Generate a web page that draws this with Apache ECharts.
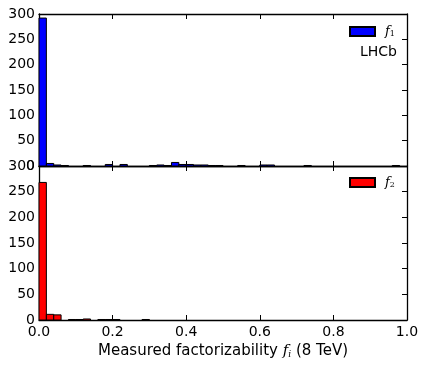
<!DOCTYPE html>
<html>
<head>
<meta charset="utf-8">
<script src="https://cdn.jsdelivr.net/npm/echarts@6/dist/echarts.min.js"></script>
<style>
  html, body { margin: 0; padding: 0; background: #fff; }
  #main { width: 427px; height: 367px; }
</style>
</head>
<body>
<div id="main"></div>
<script>
// histogram, 50 bins of width 0.02 on [0, 1]
var binWidth = 0.02;
var countsF1 = [292, 5, 2, 1, 0, 0, 1, 0, 0, 3, 0, 3, 0, 0, 0, 1, 2, 1, 7, 3,
                3, 2, 2, 1, 1, 0, 0, 1, 0, 0, 2, 2, 0, 0, 0, 0, 1, 0, 0, 0,
                0, 0, 0, 0, 0, 0, 0, 0, 1, 0];
var countsF2 = [268, 11, 10, 0, 1, 1, 2, 0, 1, 1, 1, 0, 0, 0, 1, 0, 0, 0, 0, 0,
                0, 0, 0, 0, 0, 0, 0, 0, 0, 0, 0, 0, 0, 0, 0, 0, 0, 0, 0, 0,
                0, 0, 0, 0, 0, 0, 0, 0, 0, 0];
var xTicks = [0, 0.2, 0.4, 0.6, 0.8, 1.0];
var yTicks = [0, 50, 100, 150, 200, 250, 300];

function toBins(counts) {
    return counts.map(function (c, i) { return [i * binWidth, (i + 1) * binWidth, c]; });
}

function renderBar(params, api) {
    var y = api.value(2);
    if (!y) return null;
    var p0 = api.coord([api.value(0), 0]);
    var p1 = api.coord([api.value(1), y]);
    return {
        type: 'rect',
        shape: { x: p0[0], y: p1[1], width: p1[0] - p0[0], height: p0[1] - p1[1] },
        style: api.style({ stroke: '#000', lineWidth: 1 })
    };
}

var font = 'DejaVu Sans';
var lineStyle = { color: '#000', width: 1.3 };
var myChart = echarts.init(document.getElementById('main'));

function xAxis(grid, pos, labels) {
    return {
        type: 'value', gridIndex: grid, position: pos, min: 0, max: 1, interval: 0.2,
        axisLine: { show: true, onZero: false, lineStyle: lineStyle },
        axisTick: { show: true, inside: true, length: 5, lineStyle: { color: '#000' } },
        axisLabel: {
            show: labels, color: '#000', fontFamily: font, fontSize: 14, margin: 5,
            formatter: function (v) { return v.toFixed(1); }
        },
        splitLine: { show: false }
    };
}
function yAxis(grid, pos, labels) {
    return {
        type: 'value', gridIndex: grid, position: pos, min: 0, max: 300, interval: 50,
        axisLine: { show: true, onZero: false, lineStyle: lineStyle },
        axisTick: { show: true, inside: true, length: 5, lineStyle: { color: '#000' } },
        axisLabel: { show: labels, color: '#000', fontFamily: font, fontSize: 14, margin: 4 },
        splitLine: { show: false }
    };
}

var xA = [xAxis(0, 'bottom', false), xAxis(0, 'top', false), xAxis(1, 'bottom', true), xAxis(1, 'top', false)];
xA[2].name = 'Measured factorizability {i|f}{s|i} (8 TeV)';
xA[2].nameLocation = 'middle';
xA[2].nameGap = 24;
xA[2].nameTextStyle = {
    color: '#000', fontFamily: font, fontSize: 15,
    rich: {
        i: { fontFamily: 'DejaVu Serif', fontStyle: 'italic', fontSize: 15 },
        s: { fontFamily: 'DejaVu Serif', fontStyle: 'italic', fontSize: 9, padding: [6, 0, 0, 0] }
    }
};

var legendRich = {
    i: { fontFamily: 'DejaVu Serif', fontStyle: 'italic', fontSize: 13, color: '#000' },
    s: { fontFamily: 'DejaVu Serif', fontSize: 8, color: '#000', padding: [5, 0, 0, 0] }
};
function legend(name, top) {
    return {
        data: [name], left: 344, top: top, icon: 'rect', itemWidth: 25, itemHeight: 9,
        textStyle: { rich: legendRich, padding: [0, 0, 0, 5] },
        formatter: function (n) { return '{i|f}{s|' + n.slice(1) + '}'; }
    };
}

option = {
    animation: false,
    backgroundColor: '#fff',
    grid: [
        { left: 39, right: 20, top: 14, height: 152 },
        { left: 39, right: 20, top: 166, height: 154 }
    ],
    xAxis: xA,
    yAxis: [yAxis(0, 'left', true), yAxis(0, 'right', false), yAxis(1, 'left', true), yAxis(1, 'right', false)],
    legend: [legend('f1', 20), legend('f2', 171)],
    graphic: [{
        type: 'text', right: 30, top: 45,
        style: { text: 'LHCb', fill: '#000', font: '14px "DejaVu Sans"' }
    }],
    series: [
        {
            name: 'f1', type: 'custom', xAxisIndex: 0, yAxisIndex: 0,
            renderItem: renderBar, encode: { x: [0, 1], y: 2 },
            itemStyle: { color: '#0000ff', borderColor: '#000', borderWidth: 1 },
            data: toBins(countsF1)
        },
        {
            name: 'f2', type: 'custom', xAxisIndex: 2, yAxisIndex: 2,
            renderItem: renderBar, encode: { x: [0, 1], y: 2 },
            itemStyle: { color: '#ff0000', borderColor: '#000', borderWidth: 1 },
            data: toBins(countsF2)
        }
    ]
};
myChart.setOption(option);
</script>
</body>
</html>
